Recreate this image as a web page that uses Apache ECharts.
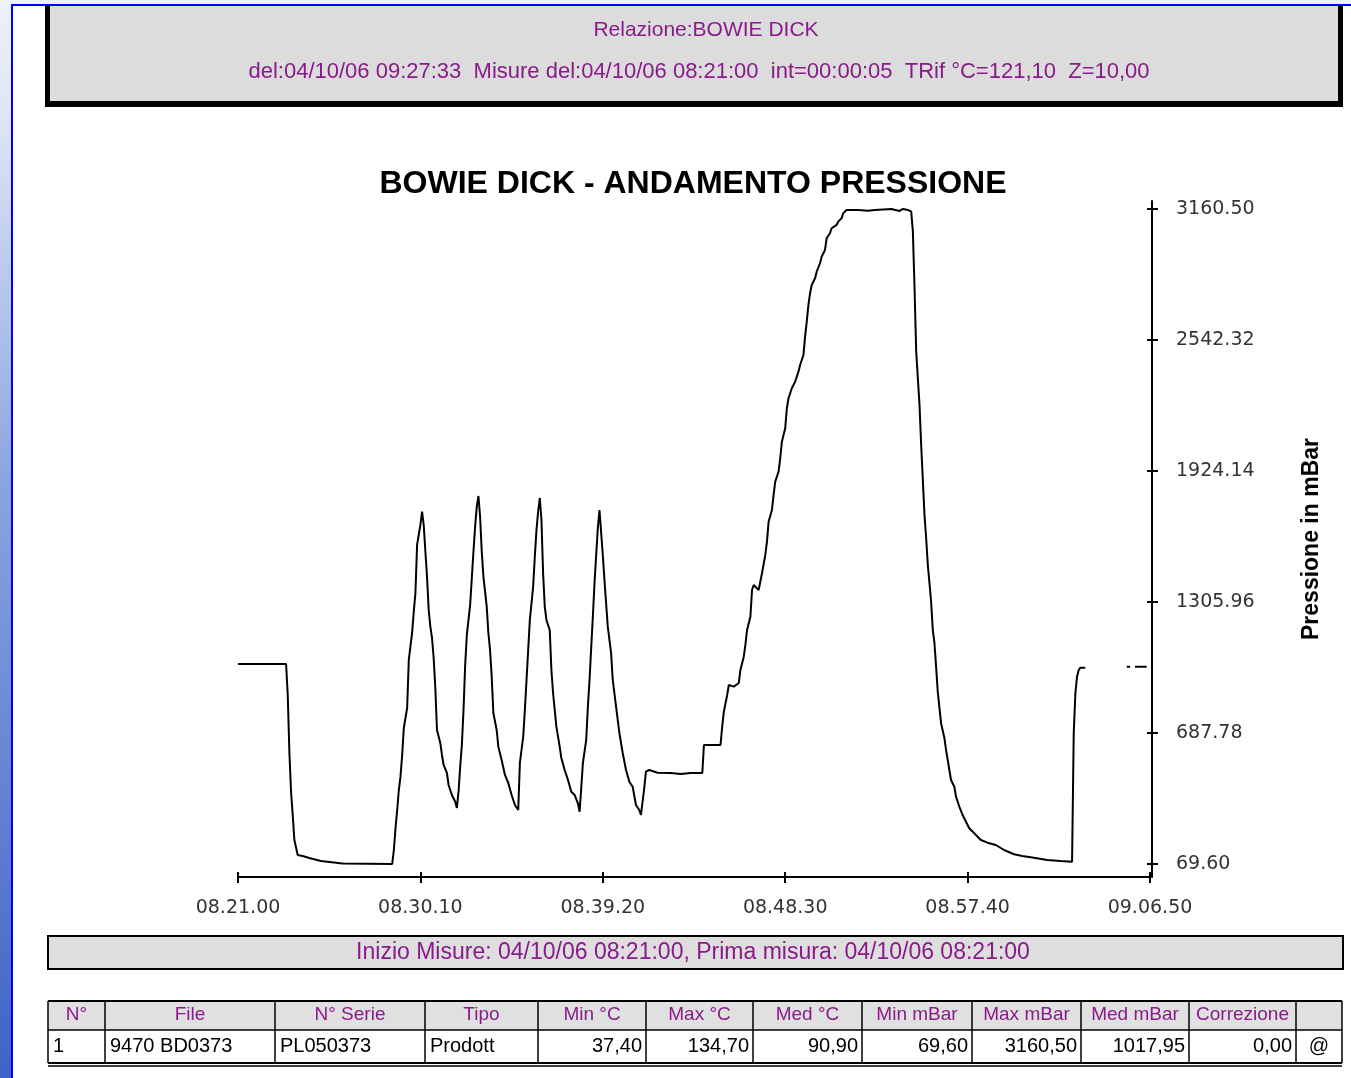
<!DOCTYPE html>
<html>
<head>
<meta charset="utf-8">
<title>BOWIE DICK - ANDAMENTO PRESSIONE</title>
<script src="https://cdn.jsdelivr.net/npm/echarts@6/dist/echarts.min.js"></script>
<style>
  html, body { margin: 0; padding: 0; background: #fff; }
  #chart { width: 1351px; height: 1078px; }
</style>
</head>
<body>
<div id="chart"></div>
<script>
// Pressure trace: seconds since 08:21:00 (5 s sampling), pressure in mBar.
// null marks samples that were not recorded.
const elapsedSec = [
  0, 145, 150, 155, 160, 165, 170, 180, 195, 215, 250, 315, 465,
  470, 475, 480, 485, 490, 495, 500, 510, 515, 525, 530, 535, 540, 550, 555,
  560, 565, 570, 575, 580, 585, 590, 595, 600, 610, 615, 620, 630, 635, 645, 655, 660,
  665, 670, 675, 680, 685, 690, 700, 705, 710, 715, 720, 725,
  730, 735, 740, 750, 755, 760, 765, 770, 780, 785, 795, 805, 815, 825, 835, 845,
  850, 860, 865, 870, 875, 880, 890, 895, 900, 905, 910,
  915, 920, 925, 930, 940, 945, 950, 960, 970, 975, 985, 995, 1005, 1015, 1025, 1030,
  1035, 1040, 1050, 1055, 1060, 1065, 1070, 1075, 1080, 1085, 1090,
  1100, 1105, 1115, 1125, 1130, 1140, 1150, 1160, 1170, 1180, 1190, 1200, 1210, 1215,
  1225, 1230, 1240, 1265, 1305, 1335, 1365, 1400,
  1405, 1455, 1460, 1465, 1475, 1480, 1495, 1510, 1515, 1525, 1530, 1535, 1545, 1550,
  1555, 1570, 1580, 1590, 1595, 1600, 1610, 1615, 1620, 1630, 1635, 1640, 1650, 1655,
  1660, 1670, 1680, 1690, 1695, 1705, 1710, 1715, 1720, 1725, 1730, 1740, 1745, 1755,
  1760, 1770, 1775, 1785, 1790, 1805, 1810, 1820, 1825, 1835,
  1870, 1900, 1920, 1970, 1995, 2005, 2020, 2030,
  2035, 2040, 2045, 2055, 2060, 2070, 2075, 2080, 2085, 2090, 2095, 2100, 2105, 2110,
  2120, 2130, 2135, 2140, 2150, 2160, 2165, 2175, 2185, 2195, 2205, 2220, 2240, 2260,
  2285, 2310, 2340, 2365, 2400, 2440, 2480, 2515,
  2520, 2525, 2530, 2535, 2540, 2555, 2600, 2680, 2690, 2697, 2705, 2740
];
const pressureMbar = [
  1013.4, 1013.4, 867.0, 593.4, 409.4, 300.8, 182.9, 112.0, 107.4, 97.9, 83.8, 72.0, 69.6,
  135.7, 239.5, 324.4, 418.8, 481.6, 584.0, 711.4, 805.8, 1032.3, 1159.7, 1260.2, 1348.4, 1575.0, 1669.3, 1732.1,
  1669.0, 1543.3, 1425.4, 1268.2, 1189.4, 1136.1, 1041.7, 900.1, 702.0, 640.6, 584.0, 536.8, 499.0, 442.4, 395.2, 363.6, 333.9,
  410.8, 528.8, 631.2, 796.3, 1008.7, 1150.3, 1291.8, 1419.2, 1543.3, 1661.3, 1755.7, 1806.2,
  1708.5, 1543.3, 1425.4, 1283.8, 1158.3, 1079.5, 953.5, 782.2, 702.0, 623.1, 560.4, 489.6, 451.8, 395.2, 348.0, 324.4,
  546.2, 670.3, 796.3, 937.9, 1079.5, 1221.0, 1378.2, 1519.8, 1645.7, 1732.1, 1796.8,
  1693.0, 1441.4, 1283.8, 1221.0, 1173.8, 985.1, 876.5, 717.5, 623.1, 569.8, 513.2, 466.0, 410.8, 395.2, 356.0, 316.4,
  428.2, 546.2, 654.8, 811.9, 937.9, 1088.9, 1236.6, 1395.6, 1527.8, 1655.2, 1740.1,
  1527.8, 1409.8, 1189.4, 1065.3, 937.9, 811.9, 687.8, 593.4, 513.2, 458.0, 434.4, 348.0, 324.4, 300.8,
  428.2, 505.2, 513.2, 500.4, 499.0, 494.3, 499.0, 499.0,
  631.2, 631.2, 717.5, 788.3, 867.1, 914.3, 906.3, 923.7, 985.1, 1047.8, 1103.1, 1173.8, 1236.6, 1362.6,
  1386.2, 1362.6, 1441.4, 1527.8, 1590.5, 1685.0, 1740.1, 1810.9, 1873.7, 1920.9, 1984.1, 2062.4, 2125.7, 2220.0,
  2267.3, 2314.4, 2345.5, 2392.8, 2424.4, 2471.6, 2557.9, 2628.7, 2707.5, 2762.7, 2801.9, 2833.5, 2864.7, 2904.3,
  2935.5, 2967.0, 3022.3, 3045.8, 3069.4, 3085.0, 3100.6, 3116.6, 3140.2, 3155.8,
  3155.8, 3152.5, 3155.8, 3160.5, 3151.0, 3160.5, 3155.8, 3147.8,
  3053.4, 2786.3, 2487.2, 2235.6, 2046.9, 1716.5, 1608.0, 1480.6, 1395.6, 1307.4, 1173.8, 1112.5, 1000.7, 882.7,
  733.6, 664.2, 607.6, 560.4, 466.0, 434.4, 387.2, 340.0, 300.8, 269.2, 238.1, 214.5, 182.9, 170.1,
  159.3, 135.7, 115.4, 107.4, 99.3, 88.5, 83.8, 80.5,
  686.4, 875.1, 953.5, 985.1, 996.0, 996.0, null, 1000.7, 1000.7, null, 1000.7, 1000.7
];

// Axis ticks
const timeTickLabels = ['08.21.00', '08.30.10', '08.39.20', '08.48.30', '08.57.40', '09.06.50'];
const timeTickStepSec = 550;
const pressureTickValues = [69.60, 687.78, 1305.96, 1924.14, 2542.32, 3160.50];
const pressureTickLabels = ['69.60', '687.78', '1305.96', '1924.14', '2542.32', '3160.50'];

// Report header and footer
const reportTitle = 'Relazione:BOWIE DICK';
const reportInfo = 'del:04/10/06 09:27:33  Misure del:04/10/06 08:21:00  int=00:00:05  TRif °C=121,10  Z=10,00';
const measureInfo = 'Inizio Misure: 04/10/06 08:21:00, Prima misura: 04/10/06 08:21:00';
const tableHeaders = ['N°', 'File', 'N° Serie', 'Tipo', 'Min °C', 'Max °C', 'Med °C', 'Min mBar', 'Max mBar', 'Med mBar', 'Correzione', ''];
const tableRow = ['1', '9470 BD0373', 'PL050373', 'Prodott', '37,40', '134,70', '90,90', '69,60', '3160,50', '1017,95', '0,00', '@'];

// ---- layout helpers ----
const PURPLE = '#8a1a8a';
const SANS = '"Liberation Sans", Arial, sans-serif';
const colEdges = [48, 105, 275, 425, 538, 646, 753, 862, 972, 1081, 1189, 1296, 1342];
const rowAlign = ['left', 'left', 'left', 'left', 'right', 'right', 'right', 'right', 'right', 'right', 'right', 'center'];

function text(x, y, str, font, fill, align) {
  return {
    type: 'text', x: x, y: y, z: 10,
    style: { text: str, font: font, fill: fill, align: align || 'center', verticalAlign: 'middle',
             textAlign: align || 'center', textVerticalAlign: 'middle' }
  };
}
function rect(x, y, w, h, fill, stroke, lw, z) {
  return {
    type: 'rect', z: z || 1, shape: { x: x, y: y, width: w, height: h },
    style: { fill: fill || 'none', stroke: stroke || null, lineWidth: lw || 0 }
  };
}
function line(x1, y1, x2, y2, lw) {
  return { type: 'line', z: 6, shape: { x1: x1, y1: y1, x2: x2, y2: y2 }, style: { stroke: '#000', lineWidth: lw || 1 } };
}

const graphics = [];
// page frame
graphics.push(rect(0, 0, 1351, 5, '#eef1f8', null, 0, 0));
graphics.push({
  type: 'rect', z: 0, shape: { x: 0, y: 0, width: 11, height: 1078 },
  style: { fill: new echarts.graphic.LinearGradient(0, 0, 0, 1, [
    { offset: 0, color: '#eef1f8' }, { offset: 0.12, color: '#dce4f5' },
    { offset: 0.45, color: '#8aa4e0' }, { offset: 1, color: '#3f63c6' }]) }
});
graphics.push(rect(11, 4, 1340, 2, '#0000ff', null, 0, 2));
graphics.push(rect(11, 4, 2, 1074, '#0000ff', null, 0, 2));

// header panel
graphics.push(rect(45, 6, 1298, 101, '#000', null, 0, 3));
graphics.push(rect(50, 6, 1288, 95, '#dcdcdc', null, 0, 4));
graphics.push(text(706, 30, reportTitle, '21px ' + SANS, PURPLE));
graphics.push(text(699, 72, reportInfo, '22px ' + SANS, PURPLE));

// measurement start bar
graphics.push(rect(48, 936, 1295, 33, '#dedede', '#000', 2, 3));
graphics.push(text(693, 953, measureInfo, '23px ' + SANS, PURPLE));

// summary table
const tTop = 1001, tMid = 1030, tBot = 1063;
graphics.push(rect(48, tTop, 1294, tMid - tTop, '#e0e0e0', null, 0, 3));
graphics.push(rect(48, tMid, 1294, tBot - tMid, '#ffffff', null, 0, 3));
graphics.push(line(48, tTop, 1342, tTop, 2));
graphics.push(line(48, tMid, 1342, tMid, 1.5));
graphics.push(line(48, tBot, 1342, tBot, 2));
graphics.push(line(48, tBot + 3, 1342, tBot + 3, 1.5));
colEdges.forEach(function (cx) { graphics.push(line(cx, tTop, cx, tBot, 1.5)); });
tableHeaders.forEach(function (h, i) {
  const cx = (colEdges[i] + colEdges[i + 1]) / 2;
  graphics.push(text(cx, 1015, h, '19px ' + SANS, PURPLE));
});
tableRow.forEach(function (v, i) {
  const a = rowAlign[i];
  const x = a === 'left' ? colEdges[i] + 5 : a === 'right' ? colEdges[i + 1] - 4 : (colEdges[i] + colEdges[i + 1]) / 2;
  graphics.push(text(x, 1046, v, '20px ' + SANS, '#000', a));
});

// ---- chart ----
const seriesData = elapsedSec.map(function (t, i) {
  return [t, pressureMbar[i] === null ? '-' : pressureMbar[i]];
});

const axisFont = { fontFamily: '"DejaVu Sans", sans-serif', fontSize: 19, color: '#333' };

const option = {
  animation: false,
  backgroundColor: '#ffffff',
  title: {
    text: 'BOWIE DICK - ANDAMENTO PRESSIONE',
    left: 693, top: 168, textAlign: 'center', padding: 0,
    textStyle: { fontFamily: SANS, fontSize: 32, fontWeight: 'bold', color: '#000' }
  },
  grid: { left: 238, right: 201, top: 201, bottom: 201, containLabel: false },
  xAxis: [{
    type: 'value', position: 'bottom', min: 0, max: 2750, interval: timeTickStepSec,
    axisLine: { show: true, onZero: false, lineStyle: { color: '#000', width: 2 } },
    axisTick: { show: true, length: 6, lineStyle: { color: '#000', width: 2 } },
    axisLabel: Object.assign({ margin: 22, formatter: function (v) { return timeTickLabels[Math.round(v / timeTickStepSec)]; } }, axisFont),
    splitLine: { show: false }
  }, {
    type: 'value', position: 'bottom', min: 0, max: 2750, interval: timeTickStepSec,
    axisLine: { show: false, onZero: false },
    axisTick: { show: true, inside: true, length: 5, lineStyle: { color: '#000', width: 2 } },
    axisLabel: { show: false }, splitLine: { show: false }
  }],
  yAxis: [{
    type: 'value', position: 'right', offset: 2, min: 8.25, max: 3198,
    axisLine: { show: true, onZero: false, lineStyle: { color: '#000', width: 2 } },
    axisTick: { show: true, length: 6, customValues: pressureTickValues, lineStyle: { color: '#000', width: 2 } },
    axisLabel: Object.assign({
      margin: 24, customValues: pressureTickValues,
      formatter: function (v) {
        const i = pressureTickValues.findIndex(function (p) { return Math.abs(p - v) < 0.01; });
        return i >= 0 ? pressureTickLabels[i] : '';
      }
    }, axisFont),
    splitLine: { show: false },
    name: 'Pressione in mBar', nameLocation: 'middle', nameRotate: 90, nameGap: 148,
    nameTextStyle: { fontFamily: SANS, fontSize: 23, fontWeight: 'bold', color: '#000' }
  }, {
    type: 'value', position: 'right', offset: 2, min: 8.25, max: 3198,
    axisLine: { show: false, onZero: false },
    axisTick: { show: true, inside: true, length: 5, customValues: pressureTickValues, lineStyle: { color: '#000', width: 2 } },
    axisLabel: { show: false }, splitLine: { show: false }
  }],
  series: [{
    type: 'line', xAxisIndex: 0, yAxisIndex: 0,
    data: seriesData, showSymbol: false, connectNulls: false,
    lineStyle: { color: '#000', width: 2 }, silent: true
  }],
  graphic: graphics
};

const chart = echarts.init(document.getElementById('chart'), null, { renderer: 'canvas' });
chart.setOption(option);
</script>
</body>
</html>
